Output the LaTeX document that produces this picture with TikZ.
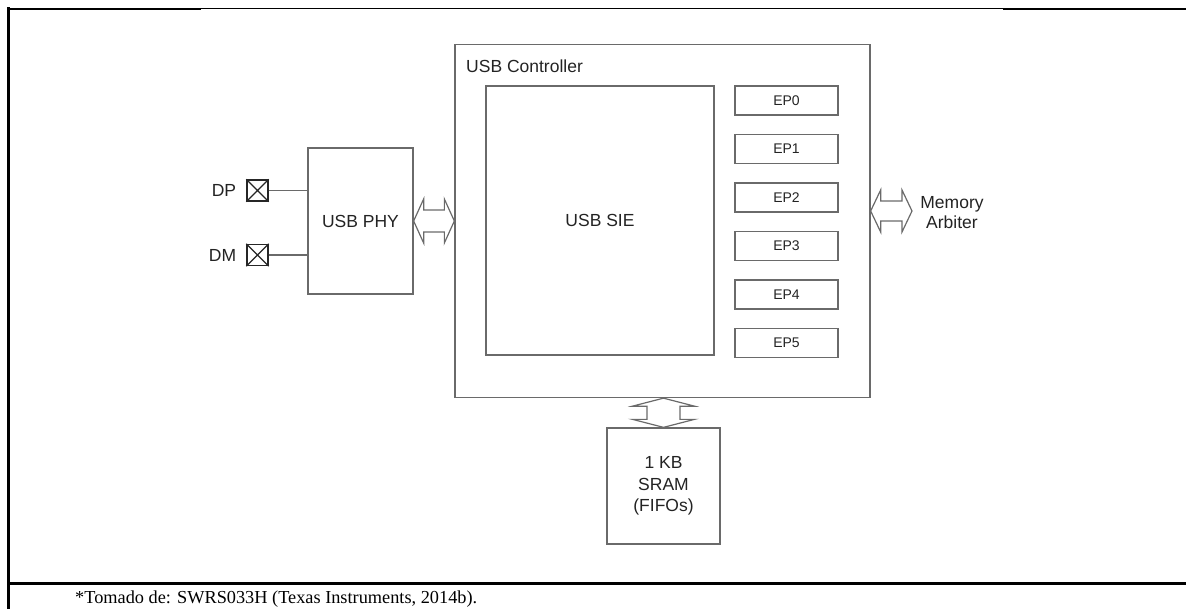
\documentclass[tikz,border=0pt]{standalone}
\usepackage{fontspec}
\setmainfont{Liberation Sans}
\newfontfamily\capfont{Liberation Serif}
\usetikzlibrary{calc,positioning}
\definecolor{boxgray}{HTML}{6A6A6A}
\definecolor{inkgray}{HTML}{232323}
\begin{document}
\begin{tikzpicture}[x=1pt,y=-1pt,
  font=\fontsize{17.5}{20}\selectfont,
  box/.style={draw=boxgray, line width=1.3pt, inner sep=0pt, text=inkgray},
  epbox/.style={box, minimum width=103pt, minimum height=29pt, font=\fontsize{14}{16}\selectfont},
  padbox/.style={draw=black!85, line width=1.4pt, minimum size=21pt, inner sep=0pt},
  wire/.style={draw=boxgray, line width=1.3pt},
  blockarrow/.style={draw=boxgray, line width=1.2pt, line join=miter, fill=white},
  label/.style={inner sep=0pt, text=inkgray},
  frame/.style={draw=black, line cap=rect}]
\useasboundingbox (0,0) rectangle (1186,608);

% outer frame
\draw[frame, line width=2.2pt] (8,9.3) -- (200,9.3);
\draw[frame, line width=1pt] (200,8.3) -- (1004,8.3);
\draw[frame, line width=2.2pt] (1004,9.3) -- (1186,9.3);
\draw[frame, line width=2.6pt] (8.7,8.5) -- (8.7,608);
\draw[frame, line width=2.3pt] (8.7,583.5) -- (1186,583.5);

% USB controller and its contents
\node[box, minimum width=415pt, minimum height=353pt] (ctrl) at (662.5,221) {};
\node[label, anchor=west] (ctrltitle) at (466,66) {USB Controller};
\node[box, minimum width=228pt, minimum height=269pt] (sie) at (600,220.5) {USB SIE};
\foreach \i/\y in {0/100.5,1/149,2/197.5,3/246,4/294.5,5/343}
  \node[epbox] (ep\i) at (786.5,\y) {EP\i};

% PHY with its two pads
\node[box, minimum width=105pt, minimum height=146pt] (phy) at (360.5,221) {USB PHY};
\node[padbox] (dpx) at (257.5,190.5) {};
\node[padbox] (dmx) at (257.5,255) {};
\draw[draw=black!85, line width=1.1pt] (dpx.north west) -- (dpx.south east) (dpx.north east) -- (dpx.south west);
\draw[draw=black!85, line width=1.1pt] (dmx.north west) -- (dmx.south east) (dmx.north east) -- (dmx.south west);
\node[label, left=10pt of dpx] (dp) {DP};
\node[label, left=10pt of dmx] (dm) {DM};
\draw[wire] (dpx.east) -- (dpx.east -| phy.west);
\draw[wire] (dmx.east) -- (dmx.east -| phy.west);

% SRAM
\node[box, minimum width=113pt, minimum height=116pt, align=center,
      font=\fontsize{17.5}{21.5}\selectfont] (sram) at (663.5,486) {1 KB\\SRAM\\(FIFOs)};

% memory arbiter
\node[label, align=center] (mem) at (952,213) {Memory\\Arbiter};
\coordinate (memtip) at (912,211);
\coordinate (mleft) at (ctrl.east |- memtip);
\coordinate (vtop) at (sram.north |- ctrl.south);

% PHY <-> controller
\draw[blockarrow] (phy.east) -- ++(10,-22) -- ++(0,11) -- ($(ctrl.west)+(-10,-11)$) -- ++(0,-11)
  -- (ctrl.west) -- ++(-10,22) -- ++(0,-11) -- ($(phy.east)+(10,11)$) -- ++(0,11) -- cycle;
% controller <-> memory arbiter
\draw[blockarrow] (mleft) -- ++(10,-21) -- ++(0,11) -- ($(memtip)+(-10,-10)$) -- ++(0,-11)
  -- (memtip) -- ++(-10,21) -- ++(0,-11) -- ($(mleft)+(10,10)$) -- ++(0,11) -- cycle;
% controller <-> SRAM
\draw[blockarrow] (vtop) -- ++(31,8) -- ++(-14.5,0) -- ($(sram.north)+(16.5,-8)$) -- ++(14.5,0)
  -- (sram.north) -- ++(-31,-8) -- ++(14.5,0) -- ($(vtop)+(-16.5,8)$) -- ++(-14.5,0) -- cycle;

% source note
\node[anchor=base west, inner sep=0pt, text=black, font=\capfont\fontsize{18.3}{22}\selectfont]
  (src) at (75,603) {*Tomado de: SWRS033H (Texas Instruments, 2014b).};
\end{tikzpicture}
\end{document}
